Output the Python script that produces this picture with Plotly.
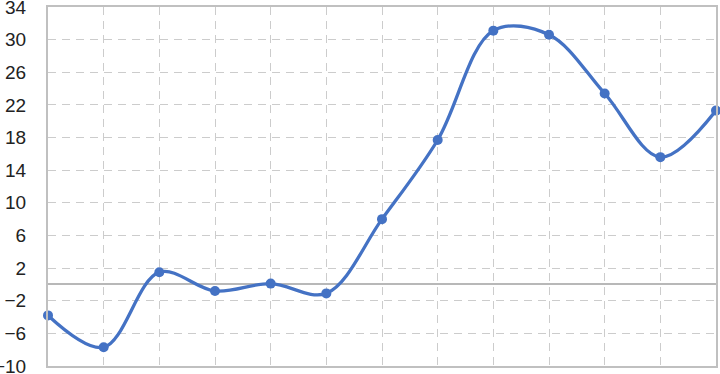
import plotly.graph_objects as go

x_vals = list(range(13))
y_vals = [-3.8, -7.7, 1.5, -0.8, 0.1, -1.1, 8.0, 17.7, 31.1, 30.6, 23.4, 15.6, 21.3]
y_ticks = [-10, -6, -2, 2, 6, 10, 14, 18, 22, 26, 30, 34]

fig = go.Figure()
fig.add_trace(go.Scatter(
    x=x_vals, y=y_vals, mode="lines+markers",
    line=dict(color="#4472C4", width=3.3, shape="spline", smoothing=1),
    marker=dict(color="#4472C4", size=10),
    showlegend=False, cliponaxis=False,
))
fig.update_layout(
    width=720, height=374,
    margin=dict(l=48, r=4, t=7, b=8, autoexpand=False),
    paper_bgcolor="white", plot_bgcolor="white",
    font=dict(family="Liberation Sans, Arial, sans-serif", size=19, color="#222222"),
)
fig.update_xaxes(
    range=[0, 12], tickvals=x_vals, showticklabels=False,
    showgrid=True, gridcolor="#cccccc", griddash="8px,6px", gridwidth=1,
    showline=True, linecolor="#c0c0c0", linewidth=2, mirror=True,
    zeroline=False,
)
fig.update_yaxes(
    range=[-10, 34], tickvals=y_ticks,
    showgrid=True, gridcolor="#cccccc", griddash="8px,6px", gridwidth=1,
    showline=True, linecolor="#c0c0c0", linewidth=2, mirror=True,
    zeroline=True, zerolinecolor="#b8b8b8", zerolinewidth=2,
    ticks="", ticklabelstandoff=16, ticklabeloverflow="allow",
)
fig.write_html("out.html", config={"displayModeBar": False},
               post_script="document.body.style.margin='0';document.body.style.padding='0';")
